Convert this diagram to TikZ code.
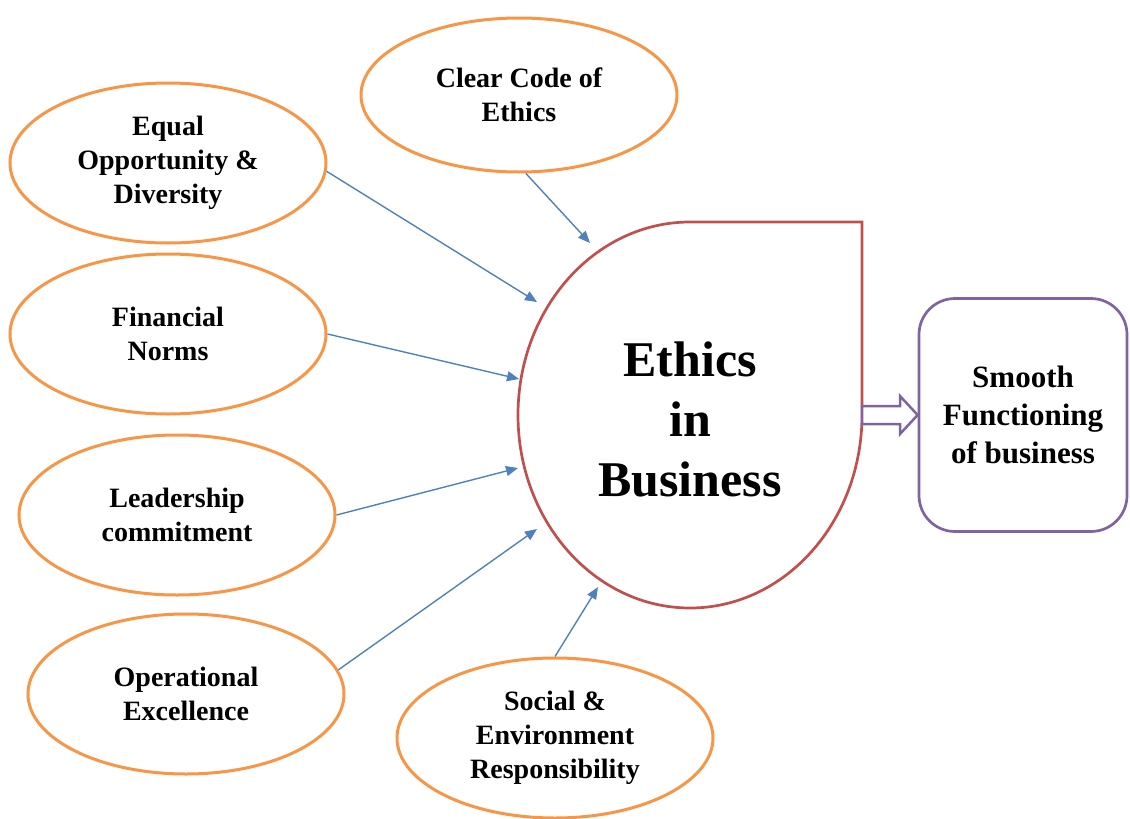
\documentclass[tikz,border=0pt]{standalone}
\usepackage{fontspec}
\setmainfont{Liberation Serif}
\usetikzlibrary{arrows.meta,shapes.geometric}
\definecolor{factorline}{HTML}{F79646}
\definecolor{coreline}{HTML}{C0504D}
\definecolor{resultline}{HTML}{8064A2}
\definecolor{linkline}{HTML}{4F81BD}
\begin{document}
\begin{tikzpicture}[x=1pt,y=-1pt,
  factor/.style={ellipse, draw=factorline, line width=3pt, fill=white,
    minimum width=316pt, minimum height=160pt, inner sep=0pt, align=center,
    font=\fontsize{28}{34}\selectfont\bfseries},
  link/.style={draw=linkline, line width=1.4pt,
    -{Triangle[length=12pt,width=10pt]}},
  coretext/.style={align=center, font=\fontsize{50}{60}\selectfont\bfseries},
  resultbox/.style={draw=resultline, line width=2.7pt, rounded corners=36pt,
    minimum width=208pt, minimum height=233pt, align=center,
    font=\fontsize{31}{38}\selectfont\bfseries},
  corepath/.style={draw=coreline, line width=2.7pt},
  fatarrow/.style={draw=resultline, line width=2.5pt, fill=white, line join=miter}]
\useasboundingbox (0,0) rectangle (1130,819);

% central teardrop: three quarters of an ellipse with a square top-right corner
\draw[corepath] (862,222) -- (862,415)
  arc[start angle=0, end angle=270, x radius=172, y radius=193] -- cycle;
\node[coretext] (ethics) at (690,419) {Ethics\\in\\Business};

% result box and the hollow arrow leading to it
\node[resultbox] (smooth) at (1023,415) {Smooth\\Functioning\\of business};
\draw[fatarrow] (862,406) -- (900,406) -- (900,396) -- (smooth.west)
  -- (900,434) -- (900,424) -- (862,424) -- cycle;

% contributing factors
\node[factor, minimum height=154pt] (code) at (519,95) {Clear Code of\\Ethics};
\node[factor] (equal) at (168,163) {Equal\\Opportunity \&\\Diversity};
\node[factor] (finance) at (168,334) {Financial\\Norms};
\node[factor] (lead) at (177,515) {Leadership\\commitment};
\node[factor] (oper) at (186,694) {Operational\\Excellence};
\node[factor] (social) at (555,738) {Social \&\\Environment\\Responsibility};

% arrow tips stop just short of the teardrop
\coordinate (tipcode) at (590,243);
\coordinate (tipequal) at (537,302);
\coordinate (tipfinance) at (519,379);
\coordinate (tiplead) at (518,468);
\coordinate (tipoper) at (537,529);
\coordinate (tipsocial) at (598,587);

\draw[link] (code.-85) -- (tipcode);
\draw[link] (equal.-3) -- (tipequal);
\draw[link] (finance.east) -- (tipfinance);
\draw[link] (lead.east) -- (tiplead);
\draw[link] (oper.9) -- (tipoper);
\draw[link] (social.north) -- (tipsocial);
\end{tikzpicture}
\end{document}
